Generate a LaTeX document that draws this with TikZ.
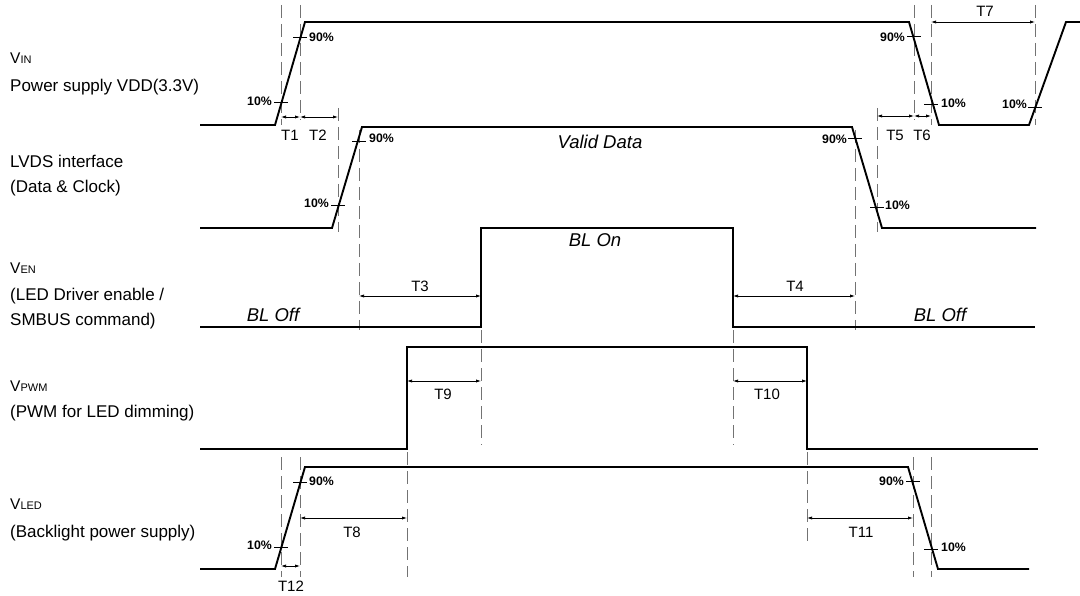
\documentclass[tikz,border=0pt]{standalone}
\usepackage{fontspec}
\setmainfont{Liberation Sans}
\usetikzlibrary{arrows.meta}
\begin{document}
\begin{tikzpicture}[x=1pt,y=-1pt,
  sig/.style={line width=1.9pt, line join=miter},
  guide/.style={black!55, line width=1pt, dash pattern=on 13pt off 6pt},
  dim/.style={line width=0.75pt, {Latex[length=5pt,width=3.2pt]}-{Latex[length=5pt,width=3.2pt]}},
  tickmark/.style={line width=0.9pt},
  pct/.style={font=\bfseries\fontsize{12.3}{14}\selectfont, inner sep=0pt},
  tlab/.style={font=\fontsize{15}{17}\selectfont, inner sep=0pt},
  lab/.style={font=\fontsize{17}{20}\selectfont, anchor=base west, inner sep=0pt},
  ital/.style={font=\itshape\fontsize{18.5}{20}\selectfont, inner sep=0pt}]

\useasboundingbox (0,0) rectangle (1080,596);

% ---------- dashed guide lines ----------
\draw[guide] (281,5) -- (281,125);
\draw[guide] (300,5) -- (300,120);
\draw[guide] (338,108) -- (338,232);
\draw[guide] (359,130) -- (359,330);
\draw[guide] (855,130) -- (855,330);
\draw[guide] (877,108) -- (877,232);
\draw[guide] (914,5) -- (914,120);
\draw[guide] (931,5) -- (931,125);
\draw[guide] (1035,5) -- (1035,125);
\draw[guide] (481,330) -- (481,445);
\draw[guide] (733,330) -- (733,445);
\draw[guide] (407,452) -- (407,577);
\draw[guide] (807,452) -- (807,545);
\draw[guide] (281,457) -- (281,577);
\draw[guide] (300,457) -- (300,577);
\draw[guide] (913,457) -- (913,577);
\draw[guide] (931,457) -- (931,577);

% ---------- signals ----------
% VIN
\draw[sig] (200,125) -- (275,125) -- (305,22) -- (909,22) -- (939,125) -- (1029,125) -- (1066,22) -- (1080,22);
% LVDS
\draw[sig] (200,228) -- (332,228) -- (362,127) -- (852,127) -- (882,228) -- (1036,228);
% VEN
\draw[sig] (200,327) -- (481,327) -- (481,228) -- (733,228) -- (733,327) -- (1035,327);
% VPWM
\draw[sig] (200,449) -- (407,449) -- (407,347) -- (807,347) -- (807,449) -- (1038,449);
% VLED
\draw[sig] (200,569) -- (275,569) -- (305,467) -- (908,467) -- (938,569) -- (1029,569);

% ---------- 10% / 90% ticks ----------
\draw[tickmark] (293,37) -- (307,37);   \node[pct, anchor=west] (p1) at (309,37) {90\%};
\draw[tickmark] (274,102) -- (288,102); \node[pct, anchor=east] (p2) at (272,101) {10\%};
\draw[tickmark] (907,36) -- (921,36);   \node[pct, anchor=east] (p3) at (905,37) {90\%};
\draw[tickmark] (924,104) -- (938,104); \node[pct, anchor=west] (p4) at (941,103) {10\%};
\draw[tickmark] (1028,107) -- (1042,107); \node[pct, anchor=east] (p5) at (1027,104) {10\%};
\draw[tickmark] (352,141) -- (366,141); \node[pct, anchor=west] (p6) at (369,138) {90\%};
\draw[tickmark] (331,205) -- (345,205); \node[pct, anchor=east] (p7) at (329,203) {10\%};
\draw[tickmark] (848,138) -- (862,138); \node[pct, anchor=east] (p8) at (847,139) {90\%};
\draw[tickmark] (870,207) -- (884,207); \node[pct, anchor=west] (p9) at (885,205) {10\%};
\draw[tickmark] (293,482) -- (307,482); \node[pct, anchor=west] (p10) at (309,481) {90\%};
\draw[tickmark] (274,547) -- (288,547); \node[pct, anchor=east] (p11) at (272,545) {10\%};
\draw[tickmark] (906,481) -- (920,481); \node[pct, anchor=east] (p12) at (904,481) {90\%};
\draw[tickmark] (924,549) -- (938,549); \node[pct, anchor=west] (p13) at (941,547) {10\%};

% ---------- timing arrows ----------
\coordinate (a1) at (281,117); \coordinate (a2) at (300,117); \coordinate (a3) at (338,117);
\draw[dim] (a1) -- (a2); \draw[dim] (a2) -- (a3);
\node[tlab] (T1) at (290,135) {T1};
\node[tlab] (T2) at (318,135) {T2};

\coordinate (b1) at (877,116); \coordinate (b2) at (914,116); \coordinate (b3) at (931,116);
\draw[dim] (b1) -- (b2); \draw[dim] (b2) -- (b3);
\node[tlab] (T5) at (895,135) {T5};
\node[tlab] (T6) at (922,135) {T6};

\coordinate (c1) at (931,22); \coordinate (c2) at (1035,22);
\draw[dim] (c1) -- (c2);
\node[tlab] (T7) at (985,11) {T7};

\coordinate (d1) at (359,296); \coordinate (d2) at (481,296);
\draw[dim] (d1) -- (d2);
\node[tlab] (T3) at (420,286) {T3};

\coordinate (e1) at (733,296); \coordinate (e2) at (855,296);
\draw[dim] (e1) -- (e2);
\node[tlab] (T4) at (795,286) {T4};

\coordinate (f1) at (407,381); \coordinate (f2) at (481,381);
\draw[dim] (f1) -- (f2);
\node[tlab] (T9) at (443,394) {T9};

\coordinate (g1) at (733,381); \coordinate (g2) at (807,381);
\draw[dim] (g1) -- (g2);
\node[tlab] (T10) at (767,394) {T10};

\coordinate (h1) at (300,518); \coordinate (h2) at (407,518);
\draw[dim] (h1) -- (h2);
\node[tlab] (T8) at (352,532) {T8};

\coordinate (i1) at (807,518); \coordinate (i2) at (913,518);
\draw[dim] (i1) -- (i2);
\node[tlab] (T11) at (861,532) {T11};

\coordinate (j1) at (281,566); \coordinate (j2) at (300,566);
\draw[dim] (j1) -- (j2);
\node[tlab] (T12) at (291,586) {T12};

% ---------- inline italic labels ----------
\node[ital] (vd) at (600,142) {Valid Data};
\node[ital] (blon) at (595,240) {BL On};
\node[ital] (bloff1) at (273,315) {BL Off};
\node[ital] (bloff2) at (940,315) {BL Off};

% ---------- left labels ----------
\newcommand{\sigV}[1]{{\fontsize{15.5}{17}\selectfont V}{\fontsize{11}{12}\selectfont #1}}
\node[lab] (l1) at (10,64) {\sigV{IN}};
\node[lab] (l2) at (10,92) {Power supply VDD(3.3V)};
\node[lab] (l3) at (10,168) {LVDS interface};
\node[lab] (l4) at (10,193) {(Data \& Clock)};
\node[lab] (l5) at (10,274) {\sigV{EN}};
\node[lab] (l6) at (10,301) {(LED Driver enable /};
\node[lab] (l7) at (10,326) {SMBUS command)};
\node[lab] (l8) at (10,391) {\sigV{PWM}};
\node[lab] (l9) at (10,417) {(PWM for LED dimming)};
\node[lab] (l10) at (10,509) {\sigV{LED}};
\node[lab] (l11) at (10,537) {(Backlight power supply)};
\end{tikzpicture}
\end{document}
